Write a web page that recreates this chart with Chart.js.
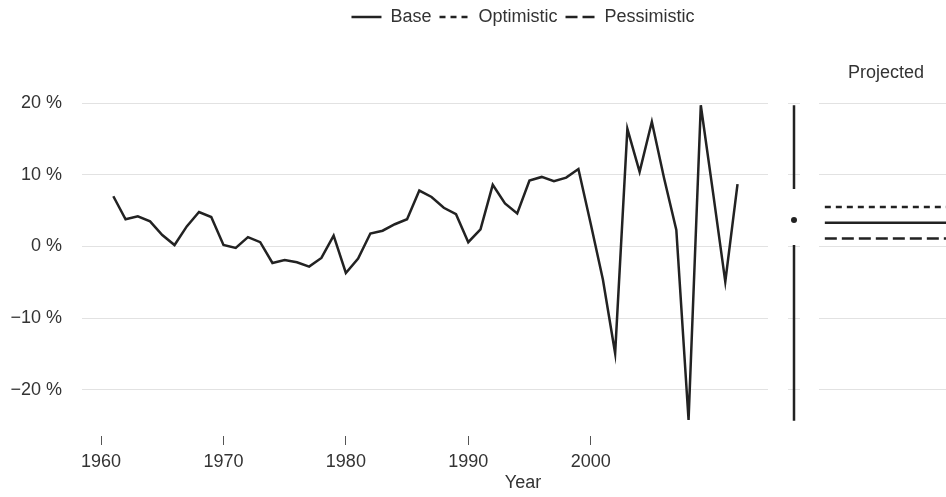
<!DOCTYPE html>
<html>
<head>
<meta charset="utf-8">
<script src="https://cdn.jsdelivr.net/npm/chart.js@4.4.0/dist/chart.umd.min.js"></script>
<style>
  html, body { margin: 0; padding: 0; background: #fff; }
  #wrap { position: relative; width: 946px; height: 497px; overflow: hidden; }
  .panel { position: absolute; top: 0; height: 497px; }
</style>
</head>
<body>
<div id="wrap">
  <div class="panel" style="left:0;width:780px"><canvas id="mainChart"></canvas></div>
  <div class="panel" style="left:770px;width:40px"><canvas id="boxChart"></canvas></div>
  <div class="panel" style="left:819px;width:134px"><canvas id="projChart"></canvas></div>
  <div class="panel" style="left:0;width:1046px"><canvas id="legendChart"></canvas></div>
</div>
<script>
// données
const years = [1961, 1962, 1963, 1964, 1965, 1966, 1967, 1968, 1969, 1970,
               1971, 1972, 1973, 1974, 1975, 1976, 1977, 1978, 1979, 1980,
               1981, 1982, 1983, 1984, 1985, 1986, 1987, 1988, 1989, 1990,
               1991, 1992, 1993, 1994, 1995, 1996, 1997, 1998, 1999, 2000,
               2001, 2002, 2003, 2004, 2005, 2006, 2007, 2008, 2009, 2010,
               2011, 2012];
const growth = [7.0, 3.8, 4.2, 3.5, 1.6, 0.2, 2.8, 4.8, 4.1, 0.2,
                -0.2, 1.3, 0.6, -2.3, -1.9, -2.2, -2.8, -1.6, 1.5, -3.7,
                -1.7, 1.8, 2.2, 3.1, 3.8, 7.8, 6.9, 5.4, 4.5, 0.6,
                2.4, 8.6, 6.0, 4.6, 9.2, 9.7, 9.1, 9.6, 10.8, 3.2,
                -4.6, -14.9, 16.4, 10.4, 17.4, 9.5, 2.3, -24.2, 19.7, 7.5,
                -4.9, 8.7];

// min, q1, médiane, q3, max
const boxSummary = [-24.3, 0.2, 3.7, 8.0, 19.7];

// scénarios projetés
const scenarioNames = ['Base', 'Optimistic', 'Pessimistic'];
const scenarioValues = [3.3, 5.5, 1.1];
const projYears = [2013, 2035];

const xTicks = [1960, 1970, 1980, 1990, 2000];
const yTicks = [-20, -10, 0, 10, 20];

// styles
const INK = '#222';
const GRID = '#e2e2e2';
const scenarioDash = [[], [6, 5], [12, 5]];
const Y_MIN = -26.43, Y_MAX = 25.03;

Chart.defaults.font.family = "'Liberation Sans', Arial, sans-serif";
Chart.defaults.font.size = 18;
Chart.defaults.color = '#333';
Chart.defaults.animation = false;
Chart.defaults.maintainAspectRatio = false;
Chart.defaults.plugins.tooltip.enabled = false;

function fmtPct(v) {
    return (v < 0 ? '\u2212' + Math.abs(v) : String(v)) + ' %';
}

// axe y commun aux trois panneaux
function yScale(showLabels) {
    return {
        min: Y_MIN,
        max: Y_MAX,
        afterBuildTicks: s => { s.ticks = yTicks.map(v => ({value: v})); },
        afterFit: s => { s.width = showLabels ? 82 : 0; },
        grid: {color: GRID, drawTicks: false},
        border: {display: false},
        ticks: {display: showLabels, padding: 20, callback: v => fmtPct(v)}
    };
}

// panneau principal
new Chart(document.getElementById('mainChart'), {
    type: 'line',
    data: {
        datasets: [{
            label: 'Base',
            data: years.map((yr, i) => ({x: yr, y: growth[i]})),
            borderColor: INK,
            borderWidth: 2.5,
            pointRadius: 0,
            tension: 0
        }]
    },
    options: {
        layout: {padding: {top: 67, right: 12, left: 0, bottom: 0}},
        plugins: {legend: {display: false}},
        scales: {
            x: {
                type: 'linear',
                min: 1958.44,
                max: 2014.49,
                afterBuildTicks: s => { s.ticks = xTicks.map(v => ({value: v})); },
                afterFit: s => { s.height = 61; },
                grid: {drawOnChartArea: false, tickLength: 9, color: '#555'},
                border: {display: false},
                ticks: {padding: 6, maxRotation: 0, autoSkip: false, callback: v => String(v)}
            },
            y: yScale(true)
        }
    }
});

// panneau résumé (min, quartiles, max)
new Chart(document.getElementById('boxChart'), {
    type: 'line',
    data: {
        datasets: [
            {data: [{x: 0, y: boxSummary[4]}, {x: 0, y: boxSummary[3]}], borderColor: INK, borderWidth: 2.5, pointRadius: 0},
            {data: [{x: 0, y: boxSummary[1]}, {x: 0, y: boxSummary[0]}], borderColor: INK, borderWidth: 2.5, pointRadius: 0},
            {data: [{x: 0, y: boxSummary[2]}], showLine: false, pointRadius: 3, pointBorderWidth: 0, pointBackgroundColor: INK}
        ]
    },
    options: {
        layout: {padding: {top: 67, bottom: 61, left: 18, right: 10}},
        plugins: {legend: {display: false}},
        scales: {
            x: {type: 'linear', min: -1, max: 1, display: false},
            y: yScale(false)
        }
    }
});

// panneau projeté
new Chart(document.getElementById('projChart'), {
    type: 'line',
    data: {
        datasets: scenarioNames.map((name, i) => ({
            label: name,
            data: projYears.map(yr => ({x: yr, y: scenarioValues[i]})),
            borderColor: INK,
            borderWidth: 2.5,
            borderDash: scenarioDash[i],
            pointRadius: 0
        }))
    },
    options: {
        layout: {padding: {top: 0, bottom: 61, left: 0, right: 0}},
        plugins: {legend: {display: false}},
        scales: {
            x: {
                type: 'linear',
                position: 'top',
                min: 2012,
                max: 2035,
                afterFit: s => { s.height = 67; },
                grid: {display: false, drawTicks: false},
                border: {display: false},
                ticks: {display: false},
                title: {display: true, text: 'Projected', padding: {top: 62, bottom: 0}}
            },
            y: yScale(false)
        }
    }
});

// légende et titre de l'axe x, centrés sur l'ensemble
new Chart(document.getElementById('legendChart'), {
    type: 'line',
    data: {
        datasets: scenarioNames.map((name, i) => ({
            label: name,
            data: [],
            borderColor: INK,
            backgroundColor: INK,
            borderWidth: 2.5,
            borderDash: scenarioDash[i]
        }))
    },
    options: {
        plugins: {
            legend: {
                position: 'top',
                labels: {
                    usePointStyle: true,
                    pointStyle: 'line',
                    pointStyleWidth: 30,
                    padding: 8,
                    // les tirets du jeu de données ne passent pas seuls dans la légende
                    generateLabels: chart => Chart.defaults.plugins.legend.labels.generateLabels(chart)
                        .map((item, i) => Object.assign(item, {lineDash: scenarioDash[i], lineWidth: 2.5, strokeStyle: INK}))
                }
            }
        },
        scales: {
            x: {
                type: 'linear',
                grid: {display: false, drawTicks: false},
                border: {display: false},
                ticks: {display: false},
                title: {display: true, text: 'Year', padding: {top: 0, bottom: 3}}
            },
            y: {display: false}
        }
    }
});
</script>
</body>
</html>
